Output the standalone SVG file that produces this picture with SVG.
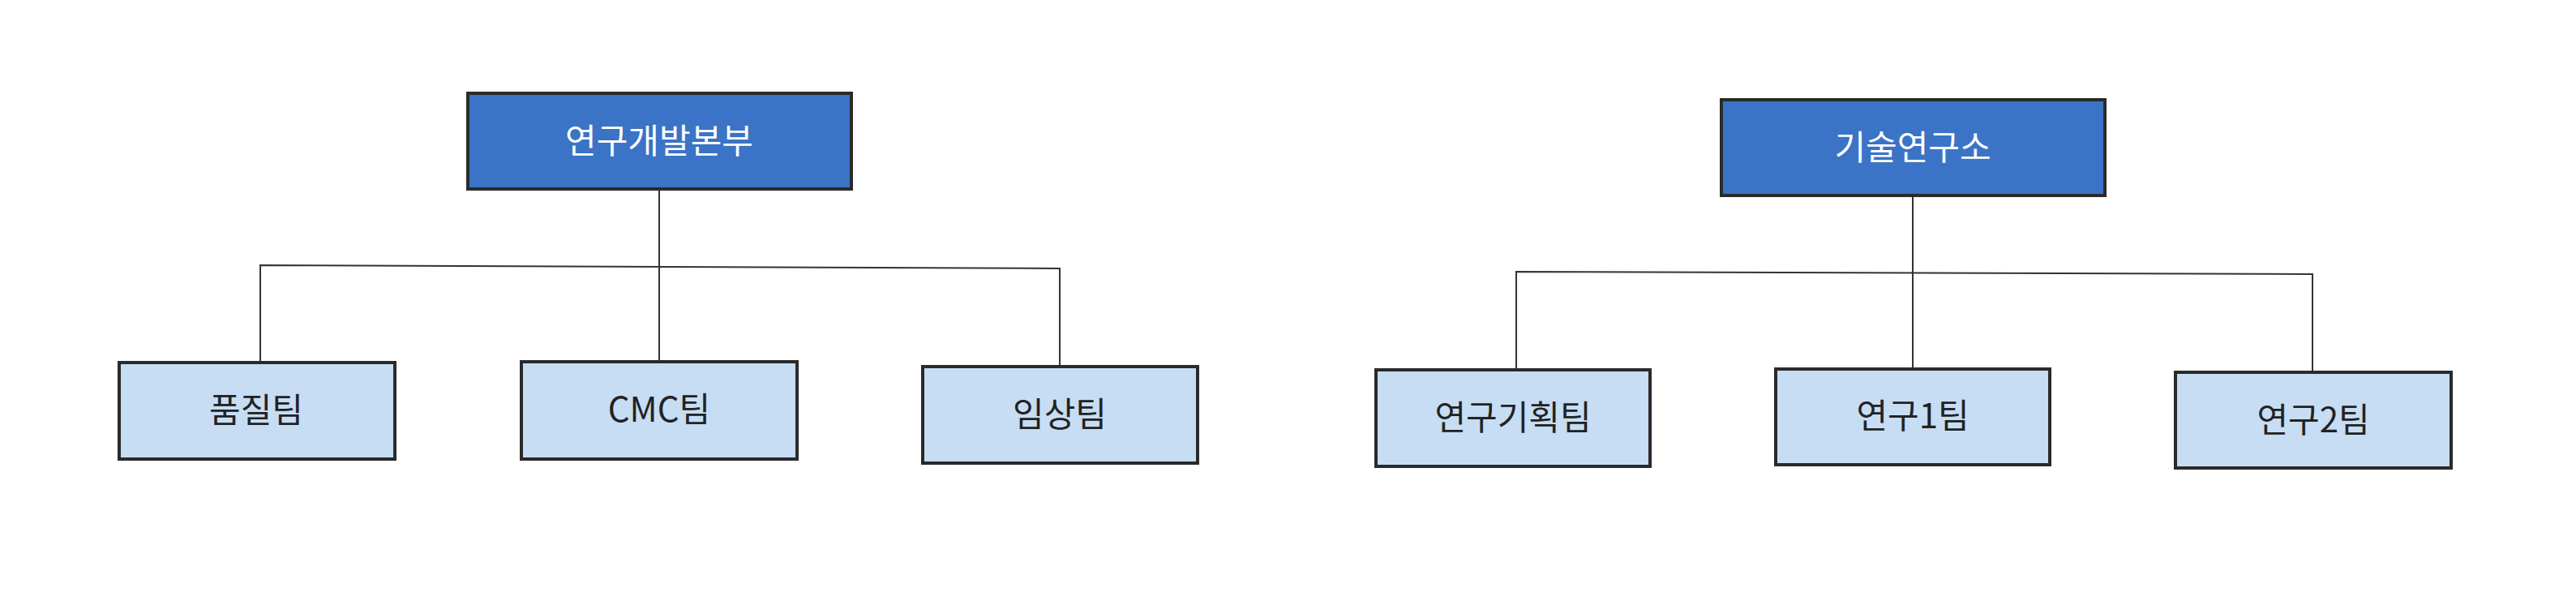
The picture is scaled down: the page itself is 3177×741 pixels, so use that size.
<svg xmlns="http://www.w3.org/2000/svg" width="3177" height="741" viewBox="0 0 3177 741">
<style>
.top rect{fill:#3b73c6;stroke:#2a2a2a;stroke-width:4}
.child rect{fill:#c6ddf4;stroke:#2a2a2a;stroke-width:4}
.top text{fill:#ffffff;font-family:"Malgun Gothic","Noto Sans CJK KR",sans-serif;font-size:42px;text-anchor:middle}
.child text{fill:#222222;font-family:"Malgun Gothic","Noto Sans CJK KR",sans-serif;font-size:42px;text-anchor:middle}
.conn{fill:none;stroke:#333333;stroke-width:2}
</style>
<rect width="3177" height="741" fill="#ffffff"/>
<g id="connectors" class="conn">
<path d="M813,233 V328"/>
<path d="M321,446 V327 L1307,331 V452"/>
<path d="M813,328 V445"/>
<path d="M2359,241 V336"/>
<path d="M1870,455 V335 L2852,338 V458"/>
<path d="M2359,336 V454"/>
</g>
<g id="n1" class="top"><rect x="577" y="115" width="473" height="118"/><text x="813" y="189">연구개발본부</text></g>
<g id="n2" class="child"><rect x="147" y="447" width="340" height="119"/><text x="316" y="521">품질팀</text></g>
<g id="n3" class="child"><rect x="643" y="446" width="340" height="120"/><text x="813" y="520">CMC팀</text></g>
<g id="n4" class="child"><rect x="1138" y="452" width="339" height="119"/><text x="1307" y="526">임상팀</text></g>
<g id="n5" class="top"><rect x="2123" y="123" width="473" height="118"/><text x="2359" y="197">기술연구소</text></g>
<g id="n6" class="child"><rect x="1697" y="456" width="338" height="119"/><text x="1866" y="530">연구기획팀</text></g>
<g id="n7" class="child"><rect x="2190" y="455" width="338" height="118"/><text x="2359" y="528">연구1팀</text></g>
<g id="n8" class="child"><rect x="2683" y="459" width="340" height="118"/><text x="2853" y="533">연구2팀</text></g>
</svg>
